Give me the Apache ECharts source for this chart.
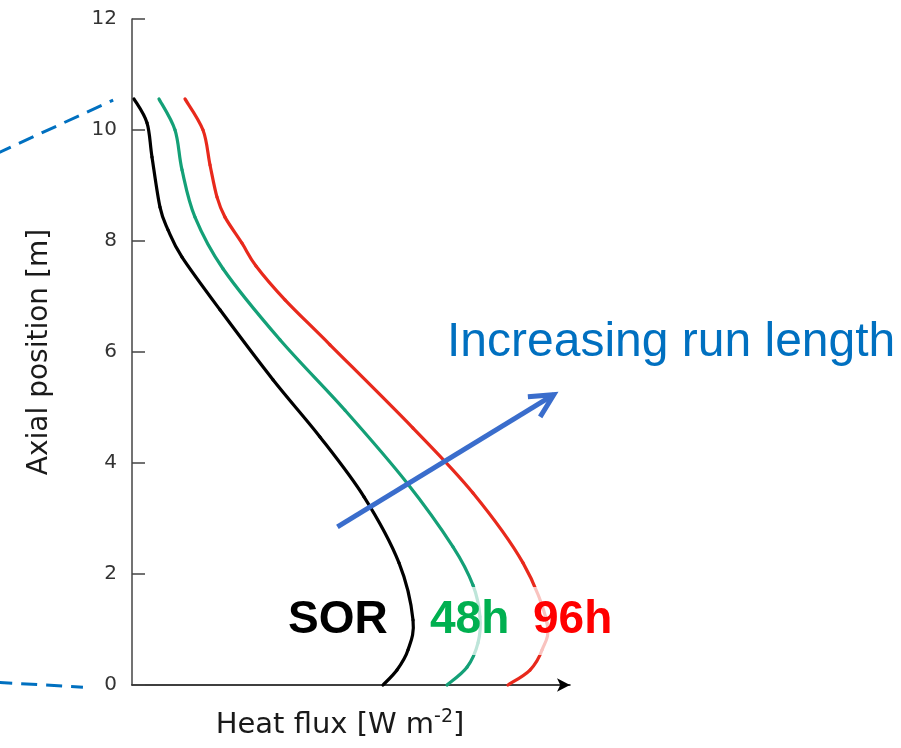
<!DOCTYPE html>
<html>
<head>
<meta charset="utf-8">
<script src="https://cdn.jsdelivr.net/npm/echarts@6/dist/echarts.min.js"></script>
<style>html,body{margin:0;padding:0;background:#fff}#c{width:901px;height:748px}</style>
</head>
<body>
<div id="c"></div>
<script>
// Axial position [m] (y) and heat flux in arbitrary units (x)
const yTicks = [0, 2, 4, 6, 8, 10, 12];
const sorX = [0.46, 3.42, 4.57, 6.39, 8.22, 11.42, 20.09, 32.19, 42.92, 52.97, 60.96, 64.16, 63.01, 60.50, 57.31];
const sorY = [10.56, 10.13, 9.51, 8.61, 8.20, 7.71, 6.76, 5.50, 4.47, 3.39, 2.20, 1.17, 0.63, 0.27, 0];
const h48X = [6.16, 9.82, 11.42, 14.38, 20.78, 33.79, 48.63, 62.79, 73.29, 77.85, 79.45, 79.00, 76.48, 71.92];
const h48Y = [10.56, 10.00, 9.28, 8.43, 7.50, 6.22, 4.95, 3.64, 2.49, 1.80, 1.23, 0.76, 0.32, 0];
const h96X = [12.10, 16.21, 17.81, 19.41, 21.23, 25.11, 28.31, 34.93, 45.21, 64.16, 77.85, 89.27, 94.75, 93.61, 90.87, 85.84];
const h96Y = [10.56, 10.00, 9.37, 8.79, 8.43, 7.96, 7.55, 6.94, 6.13, 4.63, 3.46, 2.20, 1.12, 0.63, 0.27, 0];
// annotation: arrow "Increasing run length" (start x, start y, end x, end y)
const arrowXY = [46.9, 2.85, 96.3, 5.23];
// zoom guide dashed lines outside the plot, left (x0, y0, x1, y1)
const guideTop = [-31, 9.57, -4.3, 10.54];
const guideBot = [-31, 0.05, -11.2, -0.04];

const pairs = (xs, ys) => xs.map((x, i) => [x, ys[i]]);

const chart = echarts.init(document.getElementById('c'), null, {renderer: 'canvas'});

// smooth (Catmull-Rom) curve through the data points, mapped through the axes' scales
const curve = (name, xs, ys, color) => {
  const data = pairs(xs, ys);
  return {
    name, type: 'custom', clip: false, z: 3, data,
    renderItem: (params, api) => {
      const i = params.dataIndex;
      if (i >= data.length - 1) return null;
      const P = k => api.coord(data[Math.max(0, Math.min(data.length - 1, k))]);
      const p0 = P(i - 1), p1 = P(i), p2 = P(i + 1), p3 = P(i + 2);
      return {
        type: 'bezierCurve',
        shape: {
          x1: p1[0], y1: p1[1], x2: p2[0], y2: p2[1],
          cpx1: p1[0] + (p2[0] - p0[0]) / 6, cpy1: p1[1] + (p2[1] - p0[1]) / 6,
          cpx2: p2[0] - (p3[0] - p1[0]) / 6, cpy2: p2[1] - (p3[1] - p1[1]) / 6
        },
        style: {stroke: color, lineWidth: 3.2, fill: null, lineCap: 'round'}
      };
    }
  };
};

const labelStyle = (text, color, x, y) => ({
  type: 'text', left: x, top: y, z: 100,
  style: {
    text, fill: color, font: 'bold 46px "Liberation Sans", Arial, sans-serif',
    backgroundColor: 'rgba(255,255,255,0.72)', padding: [10, 6, 12, 6]
  }
});

chart.setOption({
  animation: false,
  grid: {left: 132, right: 331, top: 19, bottom: 63, outerBoundsMode: 'none', containLabel: false},
  xAxis: {
    type: 'value', min: 0, max: 100,
    axisLine: {show: true, lineStyle: {color: '#000', width: 1.5}, symbol: ['none', 'arrow'], symbolSize: [10, 13]},
    axisTick: {show: false}, axisLabel: {show: false}, splitLine: {show: false},
    name: '{t|Heat flux [W m}{s|-2}{t|]}',
    nameLocation: 'middle', nameGap: 23,
    nameTextStyle: {
      padding: [0, 22, 0, 0],
      rich: {
        t: {fontSize: 29, fontFamily: '"DejaVu Sans"', color: '#1a1a1a', lineHeight: 34},
        s: {fontSize: 19, fontFamily: '"DejaVu Sans"', color: '#1a1a1a', verticalAlign: 'top', lineHeight: 34}
      }
    }
  },
  yAxis: {
    type: 'value', min: 0, max: 12, interval: 2,
    axisLine: {show: true, lineStyle: {color: '#444', width: 1.5}},
    axisTick: {show: true, inside: true, length: 13, lineStyle: {color: '#444', width: 1.5}},
    axisLabel: {fontSize: 20, fontFamily: '"DejaVu Sans"', color: '#333', margin: 15,
      formatter: v => yTicks.includes(v) ? String(v) : ''},
    splitLine: {show: false},
    name: 'Axial position [m]', nameLocation: 'middle', nameGap: 78,
    nameTextStyle: {fontSize: 28, fontFamily: '"DejaVu Sans"', color: '#1a1a1a'}
  },
  series: [
    {
      type: 'custom', clip: false, z: 2,
      data: [guideTop, guideBot],
      renderItem: (params, api) => {
        const p0 = api.coord([api.value(0), api.value(1)]);
        const p1 = api.coord([api.value(2), api.value(3)]);
        return {
          type: 'line', shape: {x1: p0[0], y1: p0[1], x2: p1[0], y2: p1[1]},
          style: {stroke: '#0070C0', lineWidth: 3, lineDash: [16, 9]}
        };
      }
    },
    curve('SOR', sorX, sorY, '#000000'),
    curve('48h', h48X, h48Y, '#14A077'),
    curve('96h', h96X, h96Y, '#E8291C'),
    {
      type: 'custom', clip: false, z: 5,
      data: [arrowXY],
      renderItem: (params, api) => {
        const p0 = api.coord([api.value(0), api.value(1)]);
        const p1 = api.coord([api.value(2), api.value(3)]);
        const ang = Math.atan2(p0[1] - p1[1], p0[0] - p1[0]);
        const L = 26, a = 27 * Math.PI / 180;
        const h1 = [p1[0] + L * Math.cos(ang + a), p1[1] + L * Math.sin(ang + a)];
        const h2 = [p1[0] + L * Math.cos(ang - a), p1[1] + L * Math.sin(ang - a)];
        const st = {stroke: '#3A6DCC', lineWidth: 5, fill: null, lineJoin: 'miter', lineCap: 'butt'};
        return {
          type: 'group', children: [
            {type: 'polyline', shape: {points: [p0, p1]}, style: st},
            {type: 'polyline', shape: {points: [h1, p1, h2]}, style: st}
          ]
        };
      }
    }
  ],
  graphic: [
    {
      type: 'text', left: 447, top: 319, z: 100,
      style: {text: 'Increasing run length', fill: '#0070C0', font: '48px "Liberation Sans", Arial, sans-serif'}
    },
    labelStyle('SOR', '#000000', 282, 587),
    labelStyle('48h', '#00B050', 424, 587),
    labelStyle('96h', '#FF0000', 527, 587)
  ]
});
</script>
</body>
</html>
